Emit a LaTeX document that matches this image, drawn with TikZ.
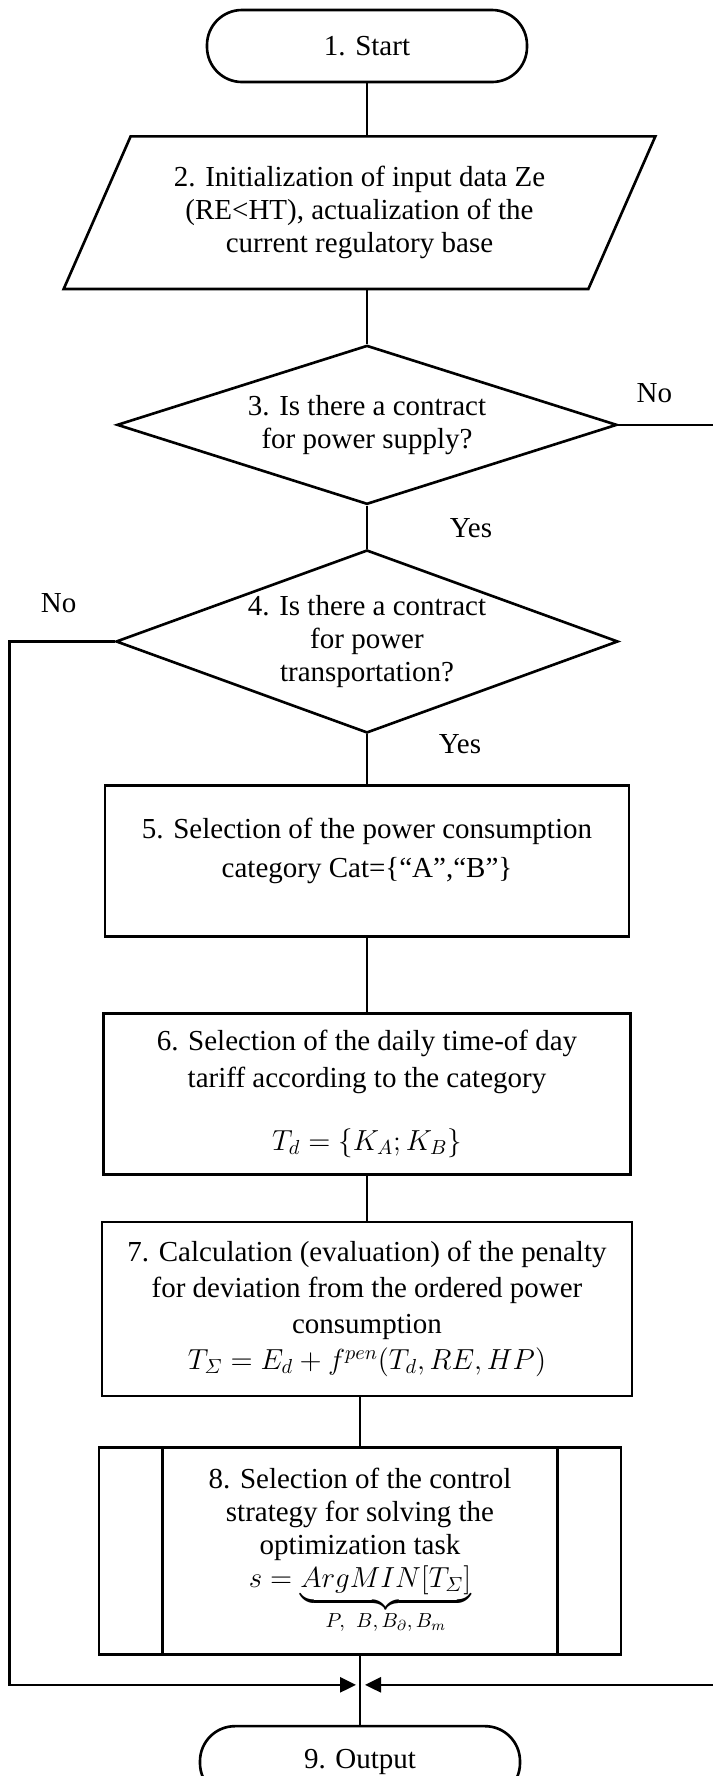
\RequirePackage{fix-cm}
\documentclass[tikz,border=0pt]{standalone}
\usepackage{amsmath}
\usepackage{fontspec}
\setmainfont{Liberation Serif}
\usepackage{tikz}
\usetikzlibrary{shapes.geometric, arrows}
\usetikzlibrary{positioning}
\usetikzlibrary{calc}
\usetikzlibrary{arrows.meta}
\tikzstyle{terminal} = [rectangle, draw = black, rounded corners=0.7cm, minimum width=6.4cm, minimum height=1.44cm, text centered, line width=1.5pt]
\tikzstyle{inout} = [rectangle, minimum width=10.48cm, minimum height=3.04cm, align=center]
\tikzstyle{decision} = [diamond, draw = black, inner sep=0pt, align=center, line width=1.5pt]
\tikzstyle{process1} = [rectangle, draw = black, align=center, line width=1.5pt]
\tikzstyle{process2} = [rectangle, draw = black, align=center, line width=1.5pt, path picture={\draw[line width=1.5pt] ([xshift=1.27cm]path picture bounding box.north west) -- ([xshift=1.27cm]path picture bounding box.south west) ([xshift=-1.27cm]path picture bounding box.north east) -- ([xshift=-1.27cm]path picture bounding box.south east);}]
\tikzstyle{line} = [line width=1.5pt]
\tikzstyle{arrow} = [line width=1.5pt, -{Triangle[length=0.32cm, width=0.3cm]}]

\begin{document}
\begin{tikzpicture}[font=\fontsize{16.5}{18.8}\selectfont]
		
		\useasboundingbox (0,0) rectangle (14.26,-35.52);
		
		\node (start) [terminal] at (7.34,-0.92) {1. Start};
		
		\node (init) [inout, below = 1.06cm of start, xshift=-0.15cm] {2. Initialization of input data Ze\\ (RE<HT), actualization of the\\ current regulatory base};
		\draw [line] ([xshift=0.67cm]init.north west) -- ([xshift=0.67cm]init.north east) -- ([xshift=-0.67cm]init.south east) -- ([xshift=-0.67cm]init.south west) -- cycle;
		
		\node (dia3) [decision, below = 1.10cm of init, xshift=0.15cm, minimum width=10cm, minimum height=3.18cm, aspect=3.14] {3. Is there a contract\\ for power supply?};
		
		\node (dia4) [decision, below = 0.86cm of dia3, minimum width=10.04cm, minimum height=3.66cm, aspect=2.74] {4. Is there a contract\\ for power\\ transportation?};
		
		\node (sel5) [process1, below = 1.00cm of dia4, minimum width=10.48cm, minimum height=3.02cm] {5. Selection of the power consumption\\[0.12cm] category Cat=\{“A”,“B”\}\rule[-0.54cm]{0pt}{0pt}};
		
		\node (sel6) [process1, below = 1.48cm of sel5, minimum width=10.54cm, minimum height=3.22cm] {6. Selection of the daily time-of day\\[0.08cm] tariff according to the category\\[0.6cm] $T_d = \{K_A; K_B\}$};
		
		\node (calc7) [process1, below = 0.90cm of sel6, minimum width=10.6cm, minimum height=3.48cm] {7. Calculation (evaluation) of the penalty\\[0.06cm] for deviation from the ordered power\\[0.06cm] consumption\\[0.06cm] $T_{\varSigma} = E_d + f^{pen}(T_d, RE, HP)$};
		
		\node (sel8) [process2, below = 0.98cm of calc7, xshift=-0.14cm, minimum width=10.44cm, minimum height=4.14cm] {8. Selection of the control\\ strategy for solving the\\ optimization task\\ $s = \underbrace{ArgMIN[T_{\varSigma}]}_{P,\;\; B,\, B_{\partial},\, B_m}$};
		
		\node (out) [terminal, below = 1.38cm of sel8] {9. Output};
		
		\coordinate [below = 0.58cm of sel8] (merge);
		
		\node (no3) at ([xshift=0.72cm, yshift=0.64cm]dia3.east) {No};
		\node (yes3) at ([xshift=2.08cm, yshift=-0.44cm]dia3.south) {Yes};
		\node (no4) at ([xshift=-1.12cm, yshift=0.76cm]dia4.west) {No};
		\node (yes4) at ([xshift=1.86cm, yshift=-0.20cm]dia4.south) {Yes};
		
		\draw [line] (start.south) -- (start.south |- init.north);
		\draw [line] (dia3.north |- init.south) -- (dia3.north);
		\draw [line] (dia3.south) -- (dia4.north);
		\draw [line] (dia4.south) -- (sel5.north);
		\draw [line] (sel5.south) -- (sel6.north);
		\draw [line] (sel6.south) -- (calc7.north);
		\draw [line] (sel8.north |- calc7.south) -- (sel8.north);
		\draw [line] (sel8.south) -- (merge) -- (out.north);
		
		\draw [arrow] (dia4.west) -- ++(-2.1,0) |- ([xshift=-0.08cm]merge);
		\draw [arrow] (dia3.east) -- ++(2.2,0) |- ([xshift=0.1cm]merge);
		
\end{tikzpicture}
\end{document}
